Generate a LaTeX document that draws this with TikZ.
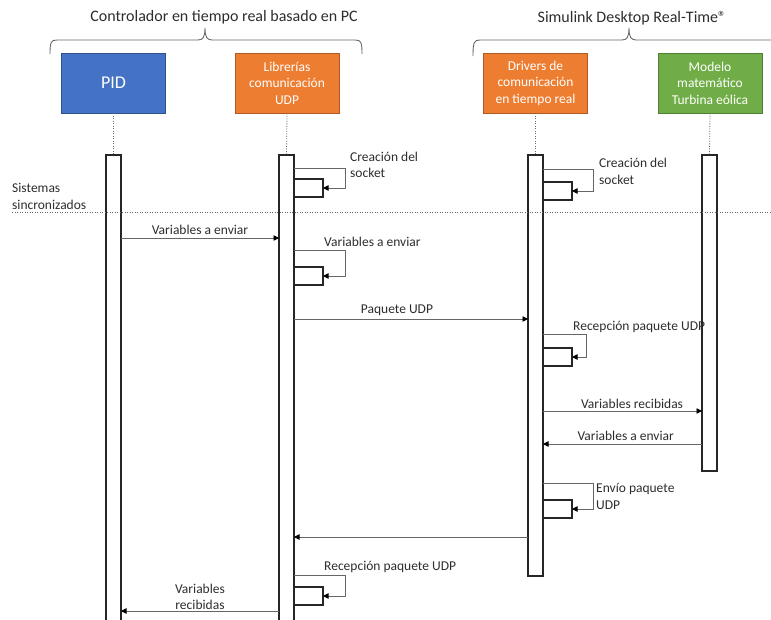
\documentclass[tikz,border=0pt]{standalone}
\usepackage{fontspec}
\setmainfont{Carlito}
\usetikzlibrary{arrows.meta}
\definecolor{pidblue}{RGB}{68,114,196}
\definecolor{pidblueb}{RGB}{47,82,143}
\definecolor{udporange}{RGB}{237,125,49}
\definecolor{udporangeb}{RGB}{174,90,33}
\definecolor{modgreen}{RGB}{112,173,71}
\definecolor{modgreenb}{RGB}{80,126,50}
\definecolor{txt}{RGB}{45,45,45}
\begin{document}
\begin{tikzpicture}[x=1pt,y=-1pt,
  hdr/.style={font=\fontsize{16}{19}\selectfont, text=txt, inner sep=0},
  actor/.style={draw, line width=0.9pt, minimum width=104pt, minimum height=60pt, text=white, align=center, font=\fontsize{13.5}{16.5}\selectfont, inner sep=0},
  actbar/.style={draw=black!85, line width=1.3pt, fill=white, minimum width=15pt, inner sep=0, outer sep=0, anchor=north},
  exec/.style={draw=black!85, line width=1.3pt, fill=white, minimum width=29pt, minimum height=18pt, inner sep=0, outer sep=0, anchor=north west},
  msg/.style={draw=black!60, line width=0.8pt, -{Triangle[length=5.5pt,width=5.5pt,color=black]}},
  lbl/.style={font=\fontsize{13.5}{16.5}\selectfont, text=txt, inner sep=0, align=left},
  life/.style={draw=black!60, line width=0.8pt, dash pattern=on 1pt off 1.5pt},
  bracepath/.style={draw=black!60, line width=0.9pt}
]
\useasboundingbox (0,0) rectangle (771,619);
\clip (0,0) rectangle (771,619);

% headers
\node[hdr] (h1) at (224,17) {Controlador en tiempo real basado en PC};
\node[hdr] (h2) at (632,18) {Simulink Desktop Real-Time®};
\draw[bracepath] (50,54) .. controls (50,42) and (51,40) .. (57,40) -- (198,40) .. controls (203,40) and (205,37) .. (205,28) .. controls (205,37) and (207,40) .. (212,40) -- (355,40) .. controls (361,40) and (362,42) .. (362,54);
\draw[bracepath] (473,56) .. controls (473,42) and (474,40) .. (480,40) -- (622,40) .. controls (627,40) and (629,37) .. (629,28) .. controls (629,37) and (631,40) .. (636,40) -- (780,40);

% actors
\node[actor, fill=pidblue, draw=pidblueb, font=\fontsize{18}{20}\selectfont] (pid) at (113.5,83) {PID};
\node[actor, fill=udporange, draw=udporangeb] (lib) at (287,83) {Librerías\\comunicación\\UDP};
\node[actor, fill=udporange, draw=udporangeb] (drv) at (535.5,83) {Drivers de\\comunicación\\en tiempo real};
\node[actor, fill=modgreen, draw=modgreenb] (mod) at (710,83) {Modelo\\matemático\\Turbina eólica};

% activation bars
\node[actbar, minimum height=480pt] (pidbar) at (113.5,155) {};
\node[actbar, minimum height=480pt] (libbar) at (286.5,155) {};
\node[actbar, minimum height=421pt] (drvbar) at (535.5,155) {};
\node[actbar, minimum height=316pt] (modbar) at (709.5,155) {};

% lifelines
\draw[life] (pid.south) -- (pidbar.north);
\draw[life] (lib.south) -- (libbar.north);
\draw[life] (drv.south) -- (drvbar.north);
\draw[life] (mod.south) -- (modbar.north);

% sync line
\coordinate (syncL) at (12,212);
\coordinate (syncR) at (771,212);
\draw[life] (syncL) -- (syncR);
\node[lbl, anchor=west] (synclbl) at (12,196.5) {Sistemas\\sincronizados};

% self loop: lib creation socket
\node[exec] (e1) at (libbar.east |- 0,179) {};
\draw[msg] (libbar.east |- 0,168) -- (345,168) |- (e1.east);
\node[lbl, anchor=west] (l1) at (350,165) {Creación del\\socket};

% self loop: drivers creation socket
\node[exec] (e2) at (drvbar.east |- 0,182) {};
\draw[msg] (drvbar.east |- 0,169) -- (593,169) |- (e2.east);
\node[lbl, anchor=west] (l2) at (599,171.5) {Creación del\\socket};

% PID -> lib
\draw[msg] (pidbar.east |- 0,238) -- (libbar.west |- 0,238) node[lbl, midway, above=3.5pt] {Variables a enviar};

% self loop: lib variables a enviar
\node[exec] (e3) at (libbar.east |- 0,267) {};
\draw[msg] (libbar.east |- 0,250) -- (345,250) |- (e3.east);
\node[lbl, anchor=west] (l3) at (324,242) {Variables a enviar};

% lib -> drivers
\draw[msg] (libbar.east |- 0,319) -- (drvbar.west |- 0,319) node[lbl, pos=0.44, above=3pt] {Paquete UDP};

% self loop: drivers reception
\node[exec] (e4) at (drvbar.east |- 0,348) {};
\draw[msg] (drvbar.east |- 0,334) -- (586,334) |- (e4.east);
\node[lbl, anchor=west] (l4) at (573,327) {Recepción paquete UDP};

% drivers <-> model
\draw[msg] (drvbar.east |- 0,411) -- (modbar.west |- 0,411) node[lbl, pos=0.56, above=2pt] {Variables recibidas};
\draw[msg] (modbar.west |- 0,444) -- (drvbar.east |- 0,444) node[lbl, pos=0.48, above=3pt] {Variables a enviar};

% self loop: drivers send
\node[exec] (e5) at (drvbar.east |- 0,500) {};
\draw[msg] (drvbar.east |- 0,483) -- (593,483) |- (e5.east);
\node[lbl, anchor=west] (l5) at (596,496.5) {Envío paquete\\UDP};

% drivers -> lib
\draw[msg] (drvbar.west |- 0,537) -- (libbar.east |- 0,537);

% self loop: lib reception
\node[exec] (e6) at (libbar.east |- 0,587) {};
\draw[msg] (libbar.east |- 0,575) -- (345,575) |- (e6.east);
\node[lbl, anchor=west] (l6) at (324,567) {Recepción paquete UDP};

% lib -> PID
\draw[msg] (libbar.west |- 0,611) -- (pidbar.east |- 0,611) node[lbl, midway, above=1pt, align=center] {Variables\\recibidas};
\end{tikzpicture}
\end{document}
